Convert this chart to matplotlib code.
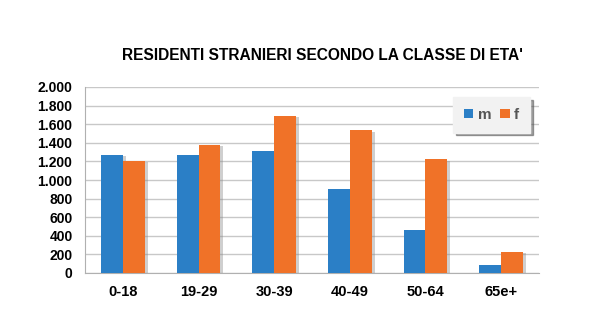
import matplotlib.pyplot as plt
import matplotlib.patheffects as pe
import numpy as np

plt.rcParams['font.family'] = ['Liberation Sans', 'DejaVu Sans']

# dati
classi = ['0-18', '19-29', '30-39', '40-49', '50-64', '65e+']
maschi = [1270, 1272, 1312, 903, 459, 86]
femmine = [1208, 1376, 1692, 1534, 1222, 226]
tick_y = [0, 200, 400, 600, 800, 1000, 1200, 1400, 1600, 1800, 2000]
tick_lbl = ['0', '200', '400', '600', '800', '1.000', '1.200', '1.400', '1.600', '1.800', '2.000']

fig = plt.figure(figsize=(5.93, 3.17), dpi=100)
ax = fig.add_axes([85/593, 1 - 273/317, 454/593, 186/317])

x = np.arange(len(classi)) + 0.5
w = 0.29
ombra = [pe.SimplePatchShadow(offset=(2, -1), shadow_rgbFace='#888888', alpha=0.4), pe.Normal()]
ax.bar(x - w/2, maschi, w, color='#2b7fc6', label='m', path_effects=ombra, zorder=3)
ax.bar(x + w/2, femmine, w, color='#f07228', label='f', path_effects=ombra, zorder=3)

ax.set_xlim(0, 6)
ax.set_ylim(0, 2000)
ax.set_yticks(tick_y)
ax.set_yticklabels(tick_lbl, fontsize=10, fontweight='bold')
ax.set_xticks(x)
ax.set_xticklabels(classi, fontsize=10.5, fontweight='bold')
ax.tick_params(axis='both', length=0)
ax.tick_params(axis='y', pad=9)
ax.tick_params(axis='x', pad=9)
ax.grid(axis='y', color='#c8c8c8', linewidth=1, zorder=0)
for s in ['top', 'right']:
    ax.spines[s].set_visible(False)
ax.spines['left'].set_color('#b0b0b0')
ax.spines['bottom'].set_color('#b0b0b0')

leg = ax.legend(loc='upper right', bbox_to_anchor=(0.98, 0.945), borderaxespad=0,
                ncol=2, frameon=True, fancybox=False, shadow=True,
                handlelength=0.6, handleheight=0.6, handletextpad=0.3,
                columnspacing=0.6, borderpad=0.7,
                prop={'weight': 'bold', 'size': 11})
leg.get_frame().set_facecolor('#f2f2f2')
leg.get_frame().set_edgecolor('#f2f2f2')
for h in leg.legend_handles:
    h.set_path_effects([])
for t in leg.get_texts():
    t.set_color('#555555')

fig.text(0.543, 1 - 55/317, "RESIDENTI STRANIERI SECONDO LA CLASSE DI ETA'",
         ha='center', va='center', fontsize=11.2, fontweight='bold')

fig.savefig('out.png', dpi=100)
